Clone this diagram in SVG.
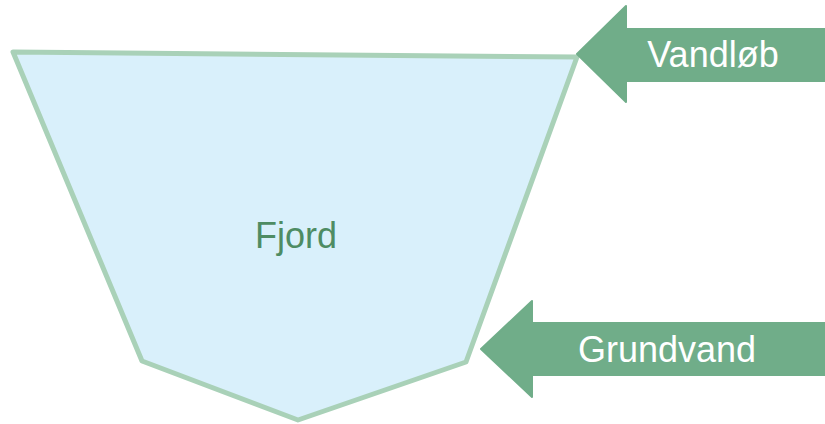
<svg xmlns="http://www.w3.org/2000/svg" width="825" height="424" viewBox="0 0 825 424">
<style>
.arrow{fill:#70ad89;stroke:#70ad89;stroke-width:2;stroke-linejoin:round}
.lbl{font-family:"Liberation Sans",Arial,sans-serif;font-size:36px;fill:#ffffff;text-anchor:middle}
</style>
<rect width="825" height="424" fill="#ffffff"/>
<g id="fjord">
<polygon points="13,52 577,57 466,362 298,420 142,361" fill="#d9f0fb" stroke="#a9d1b8" stroke-width="5" stroke-linejoin="round"/>
<text x="296" y="248" font-family="'Liberation Sans',Arial,sans-serif" font-size="36" fill="#4e8c63" text-anchor="middle">Fjord</text>
</g>
<g id="vandlob">
<polygon class="arrow" points="577,54 626,6 626,29 825,29 825,81 626,81 626,102"/>
<text class="lbl" x="713" y="67">Vandløb</text>
</g>
<g id="grundvand">
<polygon class="arrow" points="481,349 532,301 532,323 825,323 825,375 532,375 532,397"/>
<text class="lbl" x="667" y="362">Grundvand</text>
</g>
</svg>
